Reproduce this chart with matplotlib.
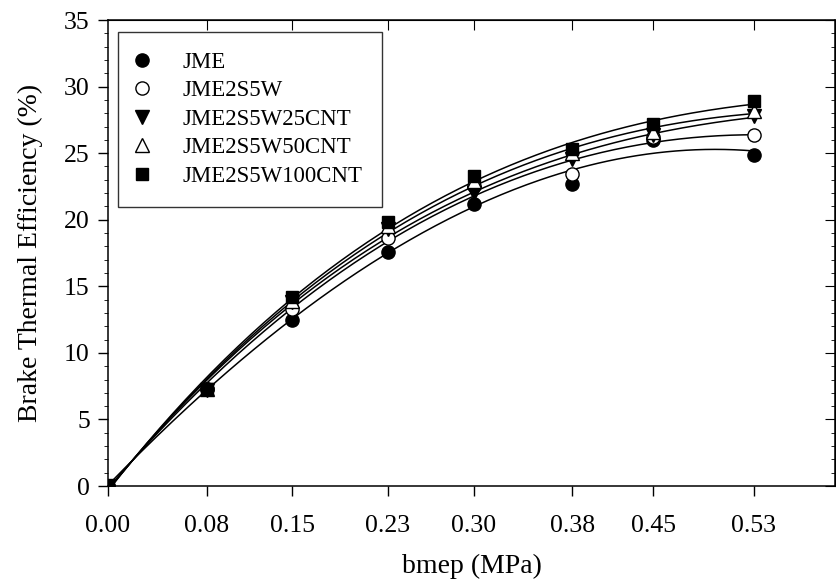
import matplotlib.pyplot as plt
from matplotlib.ticker import MultipleLocator
import numpy as np

plt.rcParams['font.family'] = ['Liberation Serif', 'DejaVu Serif']

# bmep load points (MPa) and their printed tick labels
bmep = [0.0, 0.0817, 0.152, 0.231, 0.302, 0.383, 0.450, 0.533]
tick_labels = ["0.00", "0.08", "0.15", "0.23", "0.30", "0.38", "0.45", "0.53"]

# brake thermal efficiency (%) per fuel
jme = [0.0, 7.3, 12.5, 17.6, 21.2, 22.7, 26.0, 24.9]
jme2s5w = [0.0, 7.3, 13.3, 18.6, 22.5, 23.4, 26.2, 26.4]
jme2s5w25cnt = [0.0, 7.2, 13.8, 19.3, 22.0, 24.6, 26.4, 27.8]
jme2s5w50cnt = [0.0, 7.3, 13.9, 19.5, 22.9, 25.0, 26.6, 28.2]
jme2s5w100cnt = [0.0, 7.3, 14.2, 19.8, 23.3, 25.3, 27.2, 28.9]

series = [
    ("JME", jme, dict(marker='o', mfc='black')),
    ("JME2S5W", jme2s5w, dict(marker='o', mfc='white')),
    ("JME2S5W25CNT", jme2s5w25cnt, dict(marker='v', mfc='black')),
    ("JME2S5W50CNT", jme2s5w50cnt, dict(marker='^', mfc='white')),
    ("JME2S5W100CNT", jme2s5w100cnt, dict(marker='s', mfc='black')),
]

fig = plt.figure(figsize=(8.36, 5.81), dpi=100)
ax = fig.add_axes([0.129, 0.1635, 0.870, 0.802])

xs = np.linspace(0, bmep[-1], 200)
handles = []
for name, vals, style in series:
    # smooth regression curve through each series
    coef = np.polyfit(bmep, vals, 3)
    ax.plot(xs, np.polyval(coef, xs), color='black', lw=1.1, zorder=2)
    ms = 8.5 if style['marker'] == 's' else 9.5
    h, = ax.plot(bmep, vals, linestyle='none', color='black', mec='black',
                 ms=ms, mew=1.0, zorder=3, label=name, **style)
    handles.append(h)

ax.set_xlim(0, 0.6)
ax.set_ylim(0, 35)
ax.set_xticks(bmep)
ax.set_xticklabels(tick_labels)
ax.yaxis.set_major_locator(MultipleLocator(5))
ax.yaxis.set_minor_locator(MultipleLocator(1))

ax.tick_params(axis='both', labelsize=18.5, width=1.0, length=7)
ax.tick_params(axis='x', direction='out', top=False, pad=14)
ax.tick_params(axis='y', direction='out', pad=6)
ax.tick_params(axis='y', which='minor', direction='out', length=3)
ax.tick_params(axis='x', which='minor', bottom=False)

# right/top ticks point inward
sec = ax.secondary_yaxis('right')
sec.yaxis.set_major_locator(MultipleLocator(5))
sec.yaxis.set_minor_locator(MultipleLocator(1))
sec.tick_params(direction='in', length=7, labelright=False)
sec.tick_params(which='minor', direction='in', length=3)
secx = ax.secondary_xaxis('top')
secx.set_xticks(bmep[1:])
secx.tick_params(direction='in', length=7, labeltop=False)

for sp in ax.spines.values():
    sp.set_linewidth(1.1)

ax.set_xlabel("bmep (MPa)", fontsize=20, labelpad=12)
ax.set_ylabel("Brake Thermal Efficiency (%)", fontsize=20, labelpad=15)

leg = ax.legend(handles=handles, loc='upper left', bbox_to_anchor=(0.014, 0.974),
                fontsize=16.5, frameon=True, fancybox=False, edgecolor='black',
                handlelength=0.4, handletextpad=1.55, borderpad=0.85,
                labelspacing=0.33, borderaxespad=0)
leg.get_frame().set_linewidth(1.0)

fig.savefig("out.png", dpi=100)
